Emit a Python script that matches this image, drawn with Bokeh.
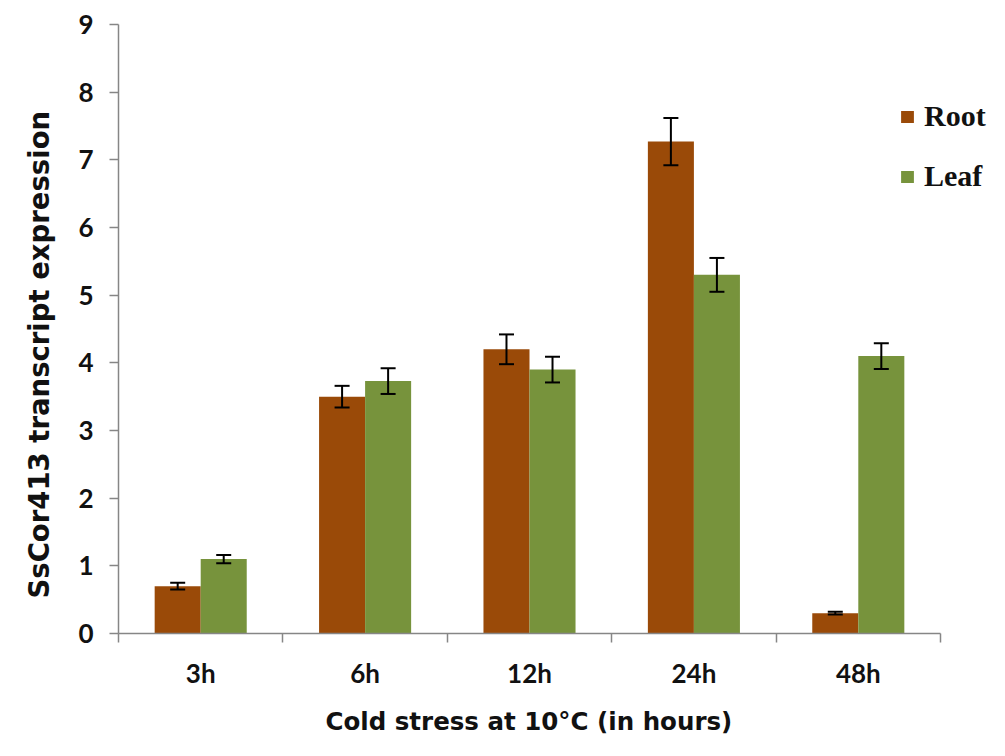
from bokeh.plotting import figure
from bokeh.models import (ColumnDataSource, Range1d, FixedTicker, Whisker, TeeHead,
                          Legend, LegendItem, Title)
from bokeh.embed import file_html
from bokeh.resources import INLINE

# ---- data ----
categories = ["3h", "6h", "12h", "24h", "48h"]
root = [0.70, 3.50, 4.20, 7.27, 0.30]
root_err = [0.05, 0.16, 0.22, 0.35, 0.02]
leaf = [1.10, 3.73, 3.90, 5.30, 4.10]
leaf_err = [0.06, 0.19, 0.19, 0.25, 0.19]
yticks = [0, 1, 2, 3, 4, 5, 6, 7, 8, 9]
x_title = "Cold stress at 10°C (in hours)"
y_title = "SsCor413 transcript expression"

ROOT_C = "#9a4a08"
LEAF_C = "#77933c"
AXIS_C = "#868686"
TXT_C = "#111111"
OFF = 0.14
BW = 0.28

W, H = 1000, 756
LEFT, TOP, BOTTOM, RIGHT = 118, 24, 123, 5
AXIS_PX = 822  # axis length in pixels for the 5 categories

n = len(categories)
centers = [i + 0.5 for i in range(n)]
frame_w = W - LEFT - RIGHT
x_end = n * frame_w / AXIS_PX

src_root = ColumnDataSource(dict(
    x=[c - OFF for c in centers], top=root,
    lo=[v - e for v, e in zip(root, root_err)],
    hi=[v + e for v, e in zip(root, root_err)]))
src_leaf = ColumnDataSource(dict(
    x=[c + OFF for c in centers], top=leaf,
    lo=[v - e for v, e in zip(leaf, leaf_err)],
    hi=[v + e for v, e in zip(leaf, leaf_err)]))

p = figure(width=W, height=H, output_backend="svg", toolbar_location=None,
           x_range=Range1d(0, x_end), y_range=Range1d(0, 9),
           min_border_left=LEFT, min_border_right=RIGHT, min_border_top=TOP,
           min_border_bottom=BOTTOM)
p.outline_line_color = None
p.xgrid.visible = False
p.ygrid.visible = False
p.background_fill_color = "white"
p.border_fill_color = "white"

r1 = p.vbar(x="x", top="top", width=BW, bottom=0, source=src_root,
            fill_color=ROOT_C, line_color=None)
r2 = p.vbar(x="x", top="top", width=BW, bottom=0, source=src_leaf,
            fill_color=LEAF_C, line_color=None)

for s in (src_root, src_leaf):
    w = Whisker(base="x", lower="lo", upper="hi", source=s, level="overlay",
                line_color="black", line_width=2,
                upper_head=TeeHead(size=15, line_color="black", line_width=2),
                lower_head=TeeHead(size=15, line_color="black", line_width=2))
    p.add_layout(w)

# x axis
xa = p.xaxis[0]
xa.bounds = (0, n)
xa.ticker = FixedTicker(ticks=centers, minor_ticks=list(range(n + 1)))
xa.major_label_overrides = {c: lab for c, lab in zip(centers, categories)}
xa.major_tick_line_color = None
xa.minor_tick_out = 9
xa.minor_tick_in = 0
xa.minor_tick_line_color = AXIS_C
xa.minor_tick_line_width = 1.5
xa.axis_line_color = AXIS_C
xa.axis_line_width = 1.5
xa.major_label_text_font = "Lato"
xa.major_label_text_font_style = "bold"
xa.major_label_text_font_size = "26px"
xa.major_label_text_color = TXT_C
xa.major_label_standoff = 14

# y axis
ya = p.yaxis[0]
ya.ticker = FixedTicker(ticks=yticks)
ya.minor_tick_line_color = None
ya.major_tick_out = 9
ya.major_tick_in = 0
ya.major_tick_line_color = AXIS_C
ya.major_tick_line_width = 1.5
ya.axis_line_color = AXIS_C
ya.axis_line_width = 1.5
ya.major_label_text_font = "Lato"
ya.major_label_text_font_style = "bold"
ya.major_label_text_font_size = "26px"
ya.major_label_text_color = TXT_C
ya.major_label_standoff = 16

# axis titles (placed as titles so they can be offset like the reference)
tx = Title(text=x_title, align="left", offset=207, vertical_align="top",
           text_font="DejaVu Sans", text_font_style="bold",
           text_font_size="24.5px", text_color=TXT_C, standoff=30)
p.add_layout(tx, "below")
ty = Title(text=y_title, align="left", offset=35, vertical_align="top",
           text_font="DejaVu Sans", text_font_style="bold",
           text_font_size="27.5px", text_color=TXT_C, standoff=38)
p.add_layout(ty, "left")

legend = Legend(items=[LegendItem(label="Root", renderers=[r1]),
                       LegendItem(label="Leaf", renderers=[r2])],
                location=(781, 440), orientation="vertical",
                glyph_width=16, glyph_height=15, spacing=26, padding=0,
                margin=0, label_standoff=9,
                label_text_font="Liberation Serif", label_text_font_style="bold",
                label_text_font_size="30px", label_text_color=TXT_C,
                border_line_color=None, background_fill_alpha=0)
p.add_layout(legend, "center")

open("out.html", "w").write(file_html(p, INLINE))
